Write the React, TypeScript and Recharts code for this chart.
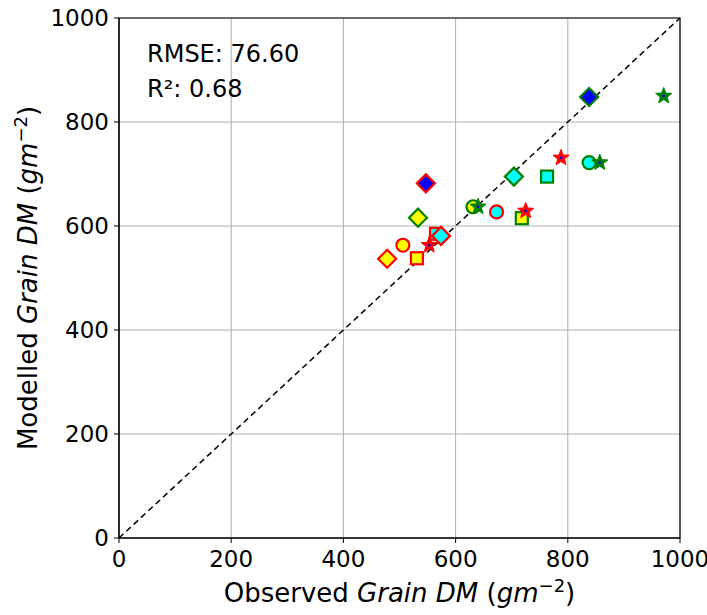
import React from "react";
import {
  CartesianGrid,
  ReferenceArea,
  ReferenceLine,
  Scatter,
  ScatterChart,
  XAxis,
  YAxis,
} from "recharts";

type Pt = { x: number; y: number };

const axisTicks = [0, 200, 400, 600, 800, 1000];
const rmseLabel = "RMSE: 76.60";
const r2Label = "R²: 0.68";

// red-edged markers
const yellowDiamondRed: Pt[] = [{ x: 478, y: 537 }];
const yellowCircleRed: Pt[] = [{ x: 506, y: 563 }];
const yellowSquareRed: Pt[] = [{ x: 531, y: 538 }];
const cyanSquareRed: Pt[] = [{ x: 565, y: 585 }];
const cyanDiamondRed: Pt[] = [{ x: 574, y: 581 }];
const blueDiamondRed: Pt[] = [{ x: 547, y: 682 }];
const cyanCircleRed: Pt[] = [{ x: 673, y: 627 }];
const redStars: Pt[] = [
  { x: 553, y: 563 },
  { x: 725, y: 629 },
  { x: 788, y: 731 },
];

// green-edged markers
const yellowDiamondGreen: Pt[] = [{ x: 533, y: 616 }];
const yellowCircleGreen: Pt[] = [{ x: 631, y: 637 }];
const yellowSquareGreen: Pt[] = [{ x: 718, y: 615 }];
const cyanDiamondGreen: Pt[] = [{ x: 704, y: 695 }];
const cyanSquareGreen: Pt[] = [{ x: 763, y: 695 }];
const cyanCircleGreen: Pt[] = [{ x: 838, y: 722 }];
const blueDiamondGreen: Pt[] = [{ x: 838, y: 848 }];
const greenStars: Pt[] = [
  { x: 640, y: 637 },
  { x: 857, y: 722 },
  { x: 971, y: 850 },
];

const RED = "#ff0000";
const GREEN = "#008000";
const YELLOW = "#ffff00";
const CYAN = "#00ffff";
const BLUE = "#0000ff";

type Kind = "diamond" | "circle" | "square" | "star";

function starPath(cx: number, cy: number, outer: number, inner: number) {
  const pts: string[] = [];
  for (let i = 0; i < 10; i++) {
    const r = i % 2 === 0 ? outer : inner;
    const a = -Math.PI / 2 + (i * Math.PI) / 5;
    pts.push(`${(cx + r * Math.cos(a)).toFixed(2)},${(cy + r * Math.sin(a)).toFixed(2)}`);
  }
  return `M${pts.join("L")}Z`;
}

function marker(kind: Kind, fill: string, stroke: string) {
  return (props: any) => {
    const { cx, cy } = props;
    if (cx == null || cy == null) return <g />;
    if (kind === "diamond") {
      const r = 9;
      return (
        <path
          d={`M${cx},${cy - r}L${cx + r},${cy}L${cx},${cy + r}L${cx - r},${cy}Z`}
          fill={fill}
          stroke={stroke}
          strokeWidth={2.2}
        />
      );
    }
    if (kind === "circle") {
      return <circle cx={cx} cy={cy} r={6.5} fill={fill} stroke={stroke} strokeWidth={2.2} />;
    }
    if (kind === "square") {
      const h = 6;
      return (
        <rect
          x={cx - h}
          y={cy - h}
          width={h * 2}
          height={h * 2}
          fill={fill}
          stroke={stroke}
          strokeWidth={2.2}
        />
      );
    }
    return (
      <g>
        <path d={starPath(cx, cy, 8.5, 3.6)} fill={fill} stroke={stroke} strokeWidth={1} />
        <circle cx={cx} cy={cy} r={1.3} fill={BLUE} />
      </g>
    );
  };
}

const series: { name: string; data: Pt[]; kind: Kind; fill: string; stroke: string }[] = [
  { name: "yd-r", data: yellowDiamondRed, kind: "diamond", fill: YELLOW, stroke: RED },
  { name: "yc-r", data: yellowCircleRed, kind: "circle", fill: YELLOW, stroke: RED },
  { name: "ys-r", data: yellowSquareRed, kind: "square", fill: YELLOW, stroke: RED },
  { name: "yd-g", data: yellowDiamondGreen, kind: "diamond", fill: YELLOW, stroke: GREEN },
  { name: "yc-g", data: yellowCircleGreen, kind: "circle", fill: YELLOW, stroke: GREEN },
  { name: "ys-g", data: yellowSquareGreen, kind: "square", fill: YELLOW, stroke: GREEN },
  { name: "cs-r", data: cyanSquareRed, kind: "square", fill: CYAN, stroke: RED },
  { name: "cd-r", data: cyanDiamondRed, kind: "diamond", fill: CYAN, stroke: RED },
  { name: "cc-r", data: cyanCircleRed, kind: "circle", fill: CYAN, stroke: RED },
  { name: "cd-g", data: cyanDiamondGreen, kind: "diamond", fill: CYAN, stroke: GREEN },
  { name: "cs-g", data: cyanSquareGreen, kind: "square", fill: CYAN, stroke: GREEN },
  { name: "cc-g", data: cyanCircleGreen, kind: "circle", fill: CYAN, stroke: GREEN },
  { name: "bd-r", data: blueDiamondRed, kind: "diamond", fill: BLUE, stroke: RED },
  { name: "bd-g", data: blueDiamondGreen, kind: "diamond", fill: BLUE, stroke: GREEN },
  { name: "st-r", data: redStars, kind: "star", fill: RED, stroke: RED },
  { name: "st-g", data: greenStars, kind: "star", fill: GREEN, stroke: GREEN },
];

const FONT = "'DejaVu Sans', sans-serif";

function TitleText({ lead }: { lead: string }) {
  return (
    <>
      <tspan>{lead} </tspan>
      <tspan fontStyle="italic">Grain DM</tspan>
      <tspan> (</tspan>
      <tspan fontStyle="italic">gm</tspan>
      <tspan dy={-10} fontSize={18}>−2</tspan>
      <tspan dy={10}>)</tspan>
    </>
  );
}

function XTitle(props: any) {
  const vb = props.viewBox || {};
  const cx = vb.x + vb.width / 2;
  return (
    <text x={cx} y={602} textAnchor="middle" fontFamily={FONT} fontSize={26} fill="#000">
      <TitleText lead="Observed" />
    </text>
  );
}

function YTitle(props: any) {
  const vb = props.viewBox || {};
  const cy = vb.y + vb.height / 2;
  return (
    <text
      x={0}
      y={0}
      transform={`translate(37, ${cy}) rotate(-90)`}
      textAnchor="middle"
      fontFamily={FONT}
      fontSize={26}
      fill="#000"
    >
      <TitleText lead="Modelled" />
    </text>
  );
}

export default function App() {
  return (
    <div
      style={{
        position: "absolute",
        left: 0,
        top: 0,
        width: 707,
        height: 615,
        background: "#fff",
        fontFamily: FONT,
      }}
    >
      <ScatterChart width={707} height={615} margin={{ top: 18, right: 27, left: 0, bottom: 0 }}>
        <CartesianGrid stroke="#b0b0b0" strokeWidth={1} />
        <XAxis
          type="number"
          dataKey="x"
          domain={[0, 1000]}
          ticks={axisTicks}
          height={77}
          tickSize={5}
          tickMargin={8}
          stroke="#000"
          tick={{ fill: "#000", fontSize: 23, fontFamily: FONT }}
          label={<XTitle />}
        />
        <YAxis
          type="number"
          dataKey="y"
          domain={[0, 1000]}
          ticks={axisTicks}
          width={119}
          tickSize={5}
          tickMargin={5}
          stroke="#000"
          tick={{ fill: "#000", fontSize: 23, fontFamily: FONT }}
          label={<YTitle />}
        />
        <ReferenceArea
          x1={0}
          x2={1000}
          y1={0}
          y2={1000}
          fill="none"
          fillOpacity={0}
          stroke="#000"
          strokeWidth={1.2}
        />
        <ReferenceLine
          segment={[
            { x: 0, y: 0 },
            { x: 1000, y: 1000 },
          ]}
          stroke="#000"
          strokeWidth={1.5}
          strokeDasharray="6 4"
        />
        {series.map((s) => (
          <Scatter
            key={s.name}
            name={s.name}
            data={s.data}
            shape={marker(s.kind, s.fill, s.stroke)}
            isAnimationActive={false}
          />
        ))}
      </ScatterChart>
      <div
        style={{ position: "absolute", left: 147, top: 37, fontSize: 24, lineHeight: "35px", color: "#000" }}
      >
        <div>{rmseLabel}</div>
        <div>{r2Label}</div>
      </div>
    </div>
  );
}
